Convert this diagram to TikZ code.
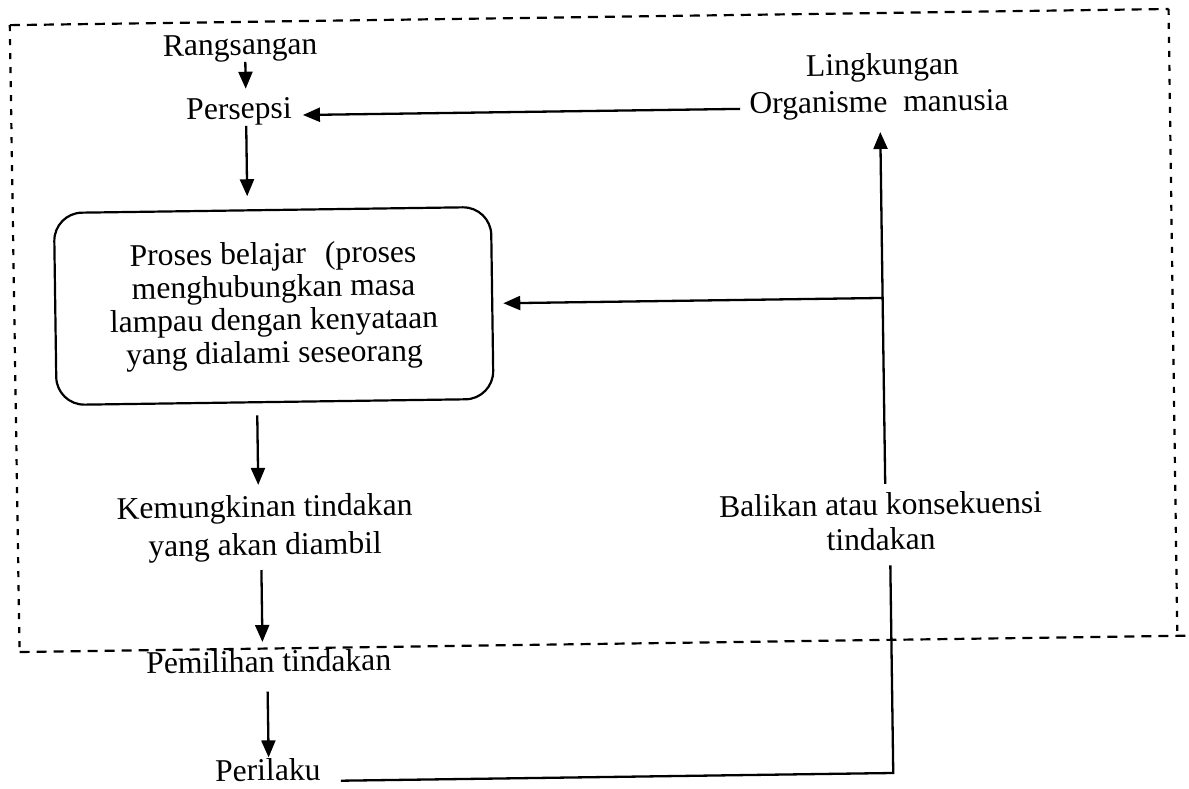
\documentclass[tikz,border=0pt]{standalone}
\usepackage{fontspec}
\setmainfont{Liberation Serif}
\usetikzlibrary{arrows.meta,calc}
\begin{document}
\begin{tikzpicture}[x=1pt,y=-1pt,
  lbl/.style={font=\fontsize{31.6}{37}\selectfont, inner sep=0pt, align=center},
  ln/.style={line width=2.3pt},
  arr/.style={ln,-{Triangle[length=17pt,width=14pt]}},
  dashh/.style={line width=2.2pt, dash pattern=on 10pt off 7pt},
  dashv/.style={line width=2.2pt, dash pattern=on 6pt off 8pt},
  procbox/.style={draw, line width=2.2pt, rounded corners=28pt, minimum width=437pt,
    minimum height=192pt, inner sep=0pt, align=center,
    font=\fontsize{31.6}{33}\selectfont}]
\useasboundingbox (0,0) rectangle (1189,788);
\fill[white] (0,0) rectangle (1189,788);
\begin{scope}[rotate around={0.8:(595,394)}, transform shape]
  % dashed frame
  \coordinate (f1) at (15,17);
  \coordinate (f2) at (1174,17);
  \coordinate (f3) at (1174,644);
  \coordinate (f4) at (16,644);
  \coordinate (f5) at (1182,644);
  \coordinate (f6) at (16,643);
  \draw[dashh] (f1) -- (f2);
  \draw[dashv] (f2) -- (f3);
  \draw[dashv] (f1) -- (f6);
  \draw[dashh] (f4) -- (f5);

  % nodes
  \node[lbl, anchor=base] (rang) at (245,50) {Rangsangan};
  \node[lbl, anchor=base] (pers) at (243,114) {Persepsi};
  \node[lbl, anchor=base] (ling) at (887,79) {Lingkungan};
  \node[lbl, anchor=base] (org) at (883,116) {Organisme\ \ manusia};
  \node[procbox] (box) at (275,301.5) {Proses belajar\hspace{0.6em}(proses\\menghubungkan masa\\lampau dengan kenyataan\\yang dialami seseorang};
  \node[lbl, font=\fontsize{31.6}{38}\selectfont] (kem) at (263,523.8) {Kemungkinan tindakan\\yang akan diambil};
  \node[lbl, anchor=base] (pem) at (265,667.5) {Pemilihan tindakan};
  \node[lbl, anchor=base] (per) at (262.6,776) {Perilaku};
  \node[lbl, font=\fontsize{31.6}{35}\selectfont] (bal) at (879,525.7) {Balikan atau konsekuensi\\tindakan};

  % connectors
  \draw[arr, shorten >=9pt] ([xshift=5pt]rang.south) -- ([xshift=7pt]pers.north);
  \draw[arr, shorten >=13pt] ([xshift=7pt]pers.south) -- ([xshift=-25pt]box.north);
  \draw[arr, shorten <=12pt, shorten >=10pt] ([xshift=-18pt]box.south) -- ([xshift=-6pt]kem.north);
  \draw[arr, shorten <=8pt, shorten >=8pt] ([xshift=-4pt]kem.south) -- ([xshift=-6pt]pem.north);
  \draw[arr, shorten <=19pt, shorten >=1pt] ([xshift=-1.5pt]pem.south) -- ([xshift=1pt]per.north);
  \coordinate (h1) at ([xshift=-9pt,yshift=-2pt]org.west);
  \draw[arr, shorten >=11pt] (h1) -- (h1 -| pers.east);
  \draw[arr] ([xshift=5pt,yshift=9pt]bal.north) -- ([xshift=1pt,yshift=-13pt]org.south);
  \coordinate (j) at (884,302);
  \draw[arr, shorten >=10pt] (j) -- (j -| box.east);
  \draw[ln] ([xshift=20pt,yshift=-12pt]per.east) -| ([xshift=9pt,yshift=-15pt]bal.south);
\end{scope}
\end{tikzpicture}
\end{document}
